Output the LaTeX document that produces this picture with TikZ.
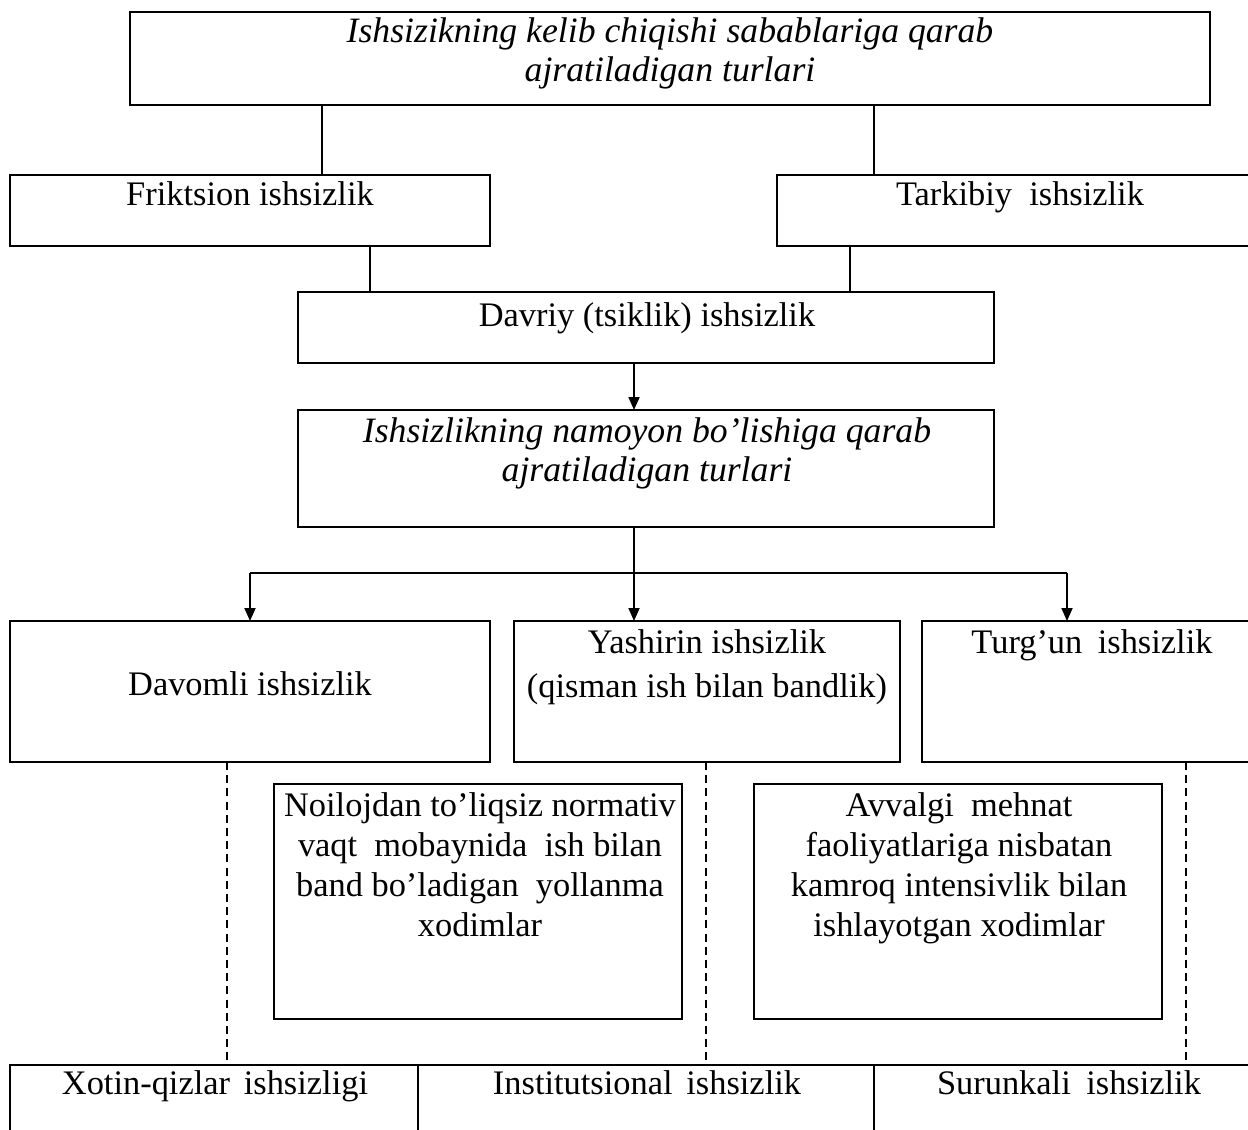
\documentclass[tikz,border=0pt]{standalone}
\usepackage{fontspec}
\setmainfont{Liberation Serif}
\usetikzlibrary{arrows.meta}
\begin{document}
\begin{tikzpicture}[x=0.5pt,y=-0.5pt,
  box/.style={draw,line width=1.1pt,rectangle,inner sep=0pt,outer sep=0pt},
  txt/.style={anchor=base,inner sep=0pt,font=\fontsize{17.2}{20}\selectfont},
  itxt/.style={txt,font=\fontsize{17.85}{20}\selectfont\itshape},
  conn/.style={line width=0.9pt},
  arr/.style={line width=0.9pt,-{Triangle[length=6.5pt,width=5.5pt]}},
  dsh/.style={line width=0.55pt,dash pattern=on 4pt off 2.6pt}]
\clip (0,0) rectangle (1248,1130);
\fill[white] (0,0) rectangle (1248,1130);
% boxes
\node[box,minimum width=540pt,minimum height=46.5pt] (top) at (670,58.5) {};
\node[box,minimum width=240pt,minimum height=35.5pt] (frik) at (250,210.5) {};
\node[box,minimum width=243pt,minimum height=35.5pt] (tark) at (1020,210.5) {};
\node[box,minimum width=348pt,minimum height=35.5pt] (davr) at (646,327.5) {};
\node[box,minimum width=348pt,minimum height=58.5pt] (namo) at (646,468.5) {};
\node[box,minimum width=240pt,minimum height=70.5pt] (davo) at (250,691.5) {};
\node[box,minimum width=193pt,minimum height=70.5pt] (yash) at (707,691.5) {};
\node[box,minimum width=170pt,minimum height=70.5pt] (turg) at (1092,691.5) {};
\node[box,minimum width=204pt,minimum height=117.5pt] (noil) at (478,901.5) {};
\node[box,minimum width=204pt,minimum height=117.5pt] (avva) at (958,901.5) {};
\node[box,minimum width=204pt,minimum height=42.5pt] (xoti) at (214,1107.5) {};
\node[box,minimum width=228pt,minimum height=42.5pt] (inst) at (646,1107.5) {};
\node[box,minimum width=195pt,minimum height=42.5pt] (suru) at (1069,1107.5) {};
% texts
\node[itxt] (t1a) at (670,42) {Ishsizikning kelib chiqishi sabablariga qarab};
\node[itxt] (t1b) at (670,81) {ajratiladigan turlari};
\node[txt] (t2) at (250,205) {Friktsion ishsizlik};
\node[txt] (t3) at (1020,205) {Tarkibiy\ \ ishsizlik};
\node[txt] (t4) at (647,326) {Davriy (tsiklik) ishsizlik};
\node[itxt] (t5a) at (647,442) {Ishsizlikning namoyon bo’lishiga qarab};
\node[itxt] (t5b) at (647,481) {ajratiladigan turlari};
\node[txt] (t6) at (250,695) {Davomli ishsizlik};
\node[txt] (t7a) at (707,653) {Yashirin ishsizlik};
\node[txt] (t7b) at (707,697) {(qisman ish bilan bandlik)};
\node[txt] (t8) at (1092,653) {Turg’un\hspace{0.45em}ishsizlik};
\node[txt] (t9a) at (480,816) {Noilojdan to’liqsiz normativ};
\node[txt] (t9b) at (480,856) {vaqt\ \ mobaynida\ \ ish bilan};
\node[txt] (t9c) at (480,896) {band bo’ladigan\ \ yollanma};
\node[txt] (t9d) at (480,936) {xodimlar};
\node[txt] (t10a) at (959,816) {Avvalgi\ \ mehnat};
\node[txt] (t10b) at (959,856) {faoliyatlariga nisbatan};
\node[txt] (t10c) at (959,896) {kamroq intensivlik bilan};
\node[txt] (t10d) at (959,936) {ishlayotgan xodimlar};
\node[txt] (t11) at (215,1094) {Xotin-qizlar\hspace{0.4em}ishsizligi};
\node[txt] (t12) at (647,1094) {Institutsional\hspace{0.4em}ishsizlik};
\node[txt] (t13) at (1069,1094) {Surunkali\hspace{0.45em}ishsizlik};
% helper coordinates
\coordinate (xa) at (322,0);
\coordinate (xb) at (874,0);
\coordinate (xc) at (370,0);
\coordinate (xd) at (850,0);
\coordinate (xm) at (634,0);
\coordinate (xl) at (250,0);
\coordinate (xr) at (1067,0);
\coordinate (hy) at (0,573);
\coordinate (da) at (227,0);
\coordinate (db) at (706,0);
\coordinate (dc) at (1186,0);
% connectors
\draw[conn] (top.south -| xa) -- (frik.north -| xa);
\draw[conn] (top.south -| xb) -- (tark.north -| xb);
\draw[conn] (frik.south -| xc) -- (davr.north -| xc);
\draw[conn] (tark.south -| xd) -- (davr.north -| xd);
\draw[arr] (davr.south -| xm) -- (namo.north -| xm);
\draw[conn] (namo.south -| xm) -- (hy -| xm);
\draw[conn] (hy -| xl) -- (hy -| xr);
\draw[arr] (hy -| xl) -- (davo.north -| xl);
\draw[arr] (hy -| xm) -- (yash.north -| xm);
\draw[arr] (hy -| xr) -- (turg.north -| xr);
\draw[dsh] (davo.south -| da) -- (xoti.north -| da);
\draw[dsh] (yash.south -| db) -- (inst.north -| db);
\draw[dsh] (turg.south -| dc) -- (suru.north -| dc);
\end{tikzpicture}
\end{document}
